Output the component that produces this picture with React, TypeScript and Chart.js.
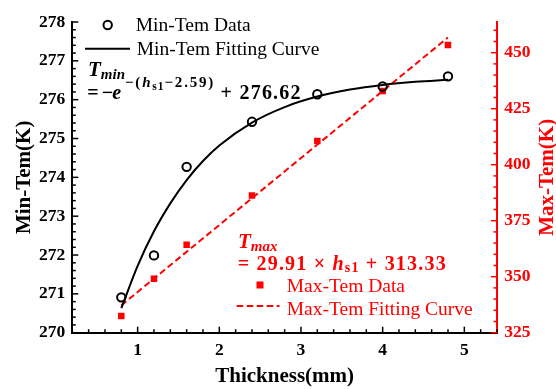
import React, { useEffect, useRef } from "react";
import { Chart, registerables } from "chart.js";

Chart.register(...registerables);

// ---- data ----
const thickness = [0.8, 1.2, 1.6, 2.4, 3.2, 4.0, 4.8];
const minTem = [270.91, 271.99, 274.27, 275.43, 276.14, 276.34, 276.6];
const maxTem = [332.5, 349.1, 364.3, 386.2, 410.6, 432.9, 453.4];

const minFitX = [0.8, 1.0, 1.2, 1.4, 1.6, 1.8, 2.0, 2.4, 2.8, 3.2, 3.6, 4.0, 4.4, 4.8];
const minFitY = [270.63, 271.72, 272.61, 273.33, 273.93, 274.42, 274.82, 275.41, 275.81, 276.08, 276.26, 276.38, 276.46, 276.51];

const maxFitX = [0.8, 4.8];
const maxFitY = [337.2, 456.8];

const xTicks = [1, 2, 3, 4, 5];
const minTicks = [270, 271, 272, 273, 274, 275, 276, 277, 278];
const maxTicks = [325, 350, 375, 400, 425, 450];

const xLabel = "Thickness(mm)";
const minLabel = "Min-Tem(K)";
const maxLabel = "Max-Tem(K)";
const legendLabels = ["Min-Tem Data", "Min-Tem Fitting Curve", "Max-Tem Data", "Max-Tem Fitting Curve"];

const FONT = '"Liberation Serif", "Times New Roman", serif';
const RED = "#ff0000";

const pts = (xs: number[], ys: number[]) => xs.map((x, i) => ({ x, y: ys[i] }));

type Seg = { t: string; font: string; dy?: number; x?: number; ls?: number };

function drawRich(ctx: CanvasRenderingContext2D, x: number, y: number, segs: Seg[], spacing = 0) {
  let cx = x;
  for (const s of segs) {
    if (s.x !== undefined) cx = s.x;
    ctx.font = s.font;
    (ctx as any).letterSpacing = (s.ls !== undefined ? s.ls : spacing) + "px";
    ctx.fillText(s.t, cx, y + (s.dy || 0));
    cx += ctx.measureText(s.t).width;
  }
  (ctx as any).letterSpacing = "0px";
}

const innerTicks = {
  id: "innerTicks",
  afterDraw(chart: any) {
    const ctx: CanvasRenderingContext2D = chart.ctx;
    const { left, right, bottom } = chart.chartArea;
    const xs = chart.scales.x;
    const ys = chart.scales.y;
    const y2 = chart.scales.y2;
    ctx.save();
    ctx.lineWidth = 1.5;
    // bottom axis
    ctx.strokeStyle = "#000";
    const nx = Math.round((xs.max - xs.min) / 0.2);
    for (let i = 0; i <= nx; i++) {
      const v = xs.min + i * 0.2;
      const major = Math.abs(v - Math.round(v)) < 1e-6;
      const px = xs.getPixelForValue(v);
      ctx.beginPath();
      ctx.moveTo(px, bottom);
      ctx.lineTo(px, bottom - (major ? 6 : 3.5));
      ctx.stroke();
    }
    // left axis
    const ny = Math.round((ys.max - ys.min) / 0.2);
    for (let i = 0; i <= ny; i++) {
      const v = ys.min + i * 0.2;
      const major = Math.abs(v - Math.round(v)) < 1e-6;
      const py = ys.getPixelForValue(v);
      ctx.beginPath();
      ctx.moveTo(left, py);
      ctx.lineTo(left + (major ? 6 : 3.5), py);
      ctx.stroke();
    }
    // right axis
    ctx.strokeStyle = RED;
    for (let v = 325; v <= y2.max; v += 5) {
      const major = v % 25 === 0;
      const py = y2.getPixelForValue(v);
      ctx.beginPath();
      ctx.moveTo(right, py);
      ctx.lineTo(right - (major ? 6 : 3.5), py);
      ctx.stroke();
    }
    ctx.restore();
  },
};

const annotations = {
  id: "annotations",
  afterDraw(chart: any) {
    const ctx: CanvasRenderingContext2D = chart.ctx;
    const { top, bottom } = chart.chartArea;
    ctx.save();
    ctx.textAlign = "left";
    ctx.textBaseline = "alphabetic";

    // Min-Tem legend
    ctx.strokeStyle = "#000";
    ctx.fillStyle = "#000";
    ctx.lineWidth = 2;
    ctx.beginPath();
    ctx.arc(107.7, 25, 4.2, 0, Math.PI * 2);
    ctx.stroke();
    ctx.beginPath();
    ctx.moveTo(85, 48.7);
    ctx.lineTo(130, 48.7);
    ctx.stroke();
    ctx.font = `19.5px ${FONT}`;
    ctx.fillText(legendLabels[0], 135.7, 30.7);
    ctx.fillText(legendLabels[1], 136.7, 55);

    // T_min formula
    drawRich(ctx, 88, 75.5, [
      { t: "T", font: `italic bold 21px ${FONT}` },
      { t: "min", font: `italic bold 15px ${FONT}`, dy: 3 },
    ]);
    drawRich(ctx, 87.3, 99, [
      { t: "=", font: `bold 20px ${FONT}`, x: 87.3 },
      { t: "−", font: `bold 20px ${FONT}`, x: 101.7 },
      { t: "e", font: `italic bold 20px ${FONT}`, x: 112.3 },
      { t: "−(", font: `bold 15px ${FONT}`, dy: -12.5, x: 125, ls: 1.8 },
      { t: "h", font: `italic bold 15px ${FONT}`, dy: -12.5, ls: 1.8 },
      { t: "s1", font: `bold 11.5px ${FONT}`, dy: -9, ls: 1 },
      { t: "−2.59)", font: `bold 15px ${FONT}`, dy: -12.5, ls: 1.8 },
      { t: "+", font: `bold 20px ${FONT}`, x: 220.5 },
      { t: "276.62", font: `bold 20px ${FONT}`, x: 239.5, ls: 1.2 },
    ]);

    // Max-Tem formula
    ctx.fillStyle = RED;
    drawRich(ctx, 238, 247.7, [
      { t: "T", font: `italic bold 21px ${FONT}` },
      { t: "max", font: `italic bold 15px ${FONT}`, dy: 3 },
    ]);
    drawRich(
      ctx,
      237.7,
      270,
      [
        { t: "= 29.91 × ", font: `bold 20px ${FONT}` },
        { t: "h", font: `italic bold 20px ${FONT}` },
        { t: "s1", font: `bold 14px ${FONT}`, dy: 2 },
        { t: " + 313.33", font: `bold 20px ${FONT}` },
      ],
      1.2
    );

    // Max-Tem legend
    ctx.fillRect(256.5, 281.5, 7, 7);
    ctx.strokeStyle = RED;
    ctx.lineWidth = 2;
    ctx.setLineDash([6.5, 3.5]);
    ctx.beginPath();
    ctx.moveTo(236.7, 306);
    ctx.lineTo(279.5, 306);
    ctx.stroke();
    ctx.setLineDash([]);
    ctx.font = `19.5px ${FONT}`;
    ctx.fillText(legendLabels[2], 286.7, 291.5);
    ctx.fillText(legendLabels[3], 286.7, 315);

    // right axis title (reads bottom to top)
    ctx.translate(548, (top + bottom) / 2);
    ctx.rotate(-Math.PI / 2);
    ctx.textAlign = "center";
    ctx.textBaseline = "middle";
    ctx.font = `bold 21px ${FONT}`;
    ctx.fillStyle = RED;
    ctx.fillText(maxLabel, 0, 0);
    ctx.restore();
  },
};

export default function App() {
  const ref = useRef<HTMLCanvasElement | null>(null);

  useEffect(() => {
    if (!ref.current) return;
    const tickFont = { family: FONT, size: 17.5, weight: "bold" as const };
    const titleFont = { family: FONT, size: 21, weight: "bold" as const };
    const chart = new Chart(ref.current, {
      type: "scatter",
      data: {
        datasets: [
          {
            label: legendLabels[0],
            data: pts(thickness, minTem),
            yAxisID: "y",
            showLine: false,
            pointStyle: "circle",
            pointRadius: 4.2,
            pointBorderWidth: 2,
            borderColor: "#000",
            backgroundColor: "rgba(0,0,0,0)",
          },
          {
            label: legendLabels[1],
            data: pts(minFitX, minFitY),
            yAxisID: "y",
            showLine: true,
            pointRadius: 0,
            borderColor: "#000",
            borderWidth: 2,
            cubicInterpolationMode: "monotone",
          },
          {
            label: legendLabels[2],
            data: pts(thickness, maxTem),
            yAxisID: "y2",
            showLine: false,
            pointStyle: "rect",
            pointRadius: 4.6,
            pointBorderWidth: 0,
            borderColor: RED,
            backgroundColor: RED,
          },
          {
            label: legendLabels[3],
            data: pts(maxFitX, maxFitY),
            yAxisID: "y2",
            showLine: true,
            pointRadius: 0,
            borderColor: RED,
            borderWidth: 2,
            borderDash: [6.5, 3.5],
          },
        ],
      },
      options: {
        animation: false,
        responsive: false,
        devicePixelRatio: 1,
        layout: { padding: { top: 22, left: 0, right: 0, bottom: 0 } },
        plugins: { legend: { display: false }, tooltip: { enabled: false } },
        scales: {
          x: {
            type: "linear",
            position: "bottom",
            min: 0.2,
            max: 5.4,
            afterBuildTicks: (s: any) => {
              s.ticks = xTicks.map((v) => ({ value: v }));
            },
            afterFit: (s: any) => {
              s.height = 56.3;
            },
            grid: { display: false, drawTicks: false },
            border: { display: true, color: "#000", width: 2 },
            ticks: { color: "#000", font: tickFont, padding: 7 },
            title: { display: true, text: xLabel, color: "#000", font: titleFont, padding: { top: 0, bottom: 0 } },
          },
          y: {
            type: "linear",
            position: "left",
            min: 270,
            max: 278,
            afterBuildTicks: (s: any) => {
              s.ticks = minTicks.map((v) => ({ value: v }));
            },
            afterFit: (s: any) => {
              s.width = 72.3;
            },
            grid: { display: false, drawTicks: false },
            border: { display: true, color: "#000", width: 2 },
            ticks: { color: "#000", font: tickFont, padding: 7 },
            title: { display: true, text: minLabel, color: "#000", font: titleFont, padding: { top: 11.5, bottom: 0 } },
          },
          y2: {
            type: "linear",
            position: "right",
            min: 325,
            max: 463.7,
            afterBuildTicks: (s: any) => {
              s.ticks = maxTicks.map((v) => ({ value: v }));
            },
            afterFit: (s: any) => {
              s.width = 59;
            },
            grid: { display: false, drawTicks: false },
            border: { display: true, color: RED, width: 2 },
            ticks: { color: RED, font: tickFont, padding: 7.3 },
            title: { display: false },
          },
        },
      },
      plugins: [innerTicks, annotations],
    } as any);
    return () => chart.destroy();
  }, []);

  return (
    <div style={{ position: "fixed", left: 0, top: 0, width: 556, height: 389, background: "#fff" }}>
      <canvas ref={ref} width={556} height={389} style={{ display: "block" }} />
    </div>
  );
}
